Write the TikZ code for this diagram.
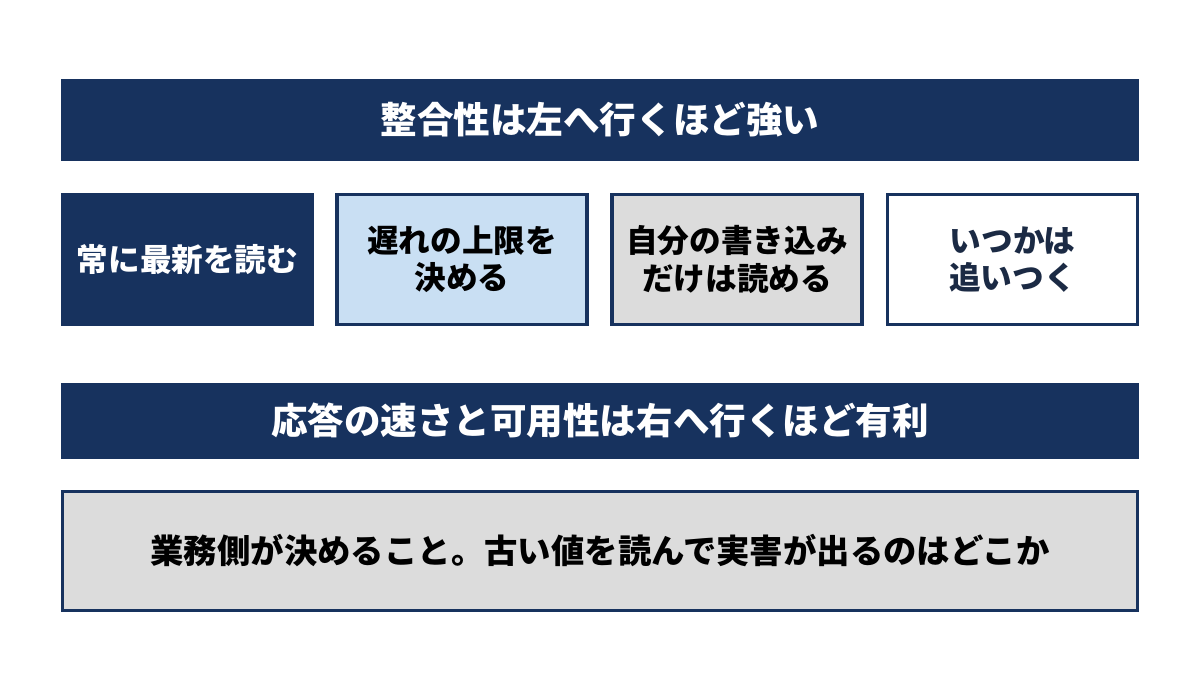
\documentclass[tikz,border=0pt]{standalone}
\usepackage{fontspec}
\setmainfont{Noto Sans CJK JP}
\definecolor{navy}{HTML}{17325E}
\definecolor{lagblue}{HTML}{C9DFF3}
\definecolor{lightgray}{HTML}{DCDCDC}
\definecolor{inknavy}{HTML}{1B2A44}

\begin{document}
\begin{tikzpicture}[
    bar/.style={fill=navy,text=white,minimum width=10.78cm,outer sep=0pt,
        font=\bfseries\fontsize{10.4}{12}\selectfont},
    level/.style={draw=navy,line width=0.9pt,minimum width=2.5cm,minimum height=1.3cm,
        align=center,outer sep=0pt,font=\bfseries\fontsize{9}{10.6}\selectfont}
]
\useasboundingbox[fill=white] (0,0) rectangle (12,6.75);

% headline bars
\node[bar,minimum height=0.82cm] (strong) at (6,5.55) {整合性は左へ行くほど強い};
\node[bar,minimum height=0.76cm] (fast) at (6,2.54) {応答の速さと可用性は右へ行くほど有利};

% consistency levels, left to right
\node[level,fill=navy,text=white] (latest) at (1.875,4.155) {常に最新を読む};
\node[level,fill=lagblue,text=black] (bounded) at (4.62,4.155) {遅れの上限を\\決める};
\node[level,fill=lightgray,text=black] (ownwrite) at (7.37,4.155) {自分の書き込み\\だけは読める};
\node[level,fill=white,text=inknavy] (eventual) at (10.125,4.155) {いつかは\\追いつく};

% business decision
\node[level,fill=lightgray,text=black,minimum width=10.75cm,minimum height=1.19cm,
    font=\bfseries\fontsize{9.5}{11}\selectfont] (decide) at (6,1.24)
    {業務側が決めること。古い値を読んで実害が出るのはどこか};

\end{tikzpicture}
\end{document}
